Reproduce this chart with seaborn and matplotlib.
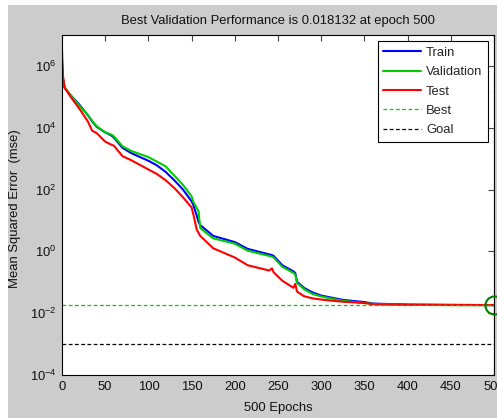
import numpy as np
import pandas as pd
import seaborn as sns
import matplotlib
matplotlib.use('Agg')
import matplotlib.pyplot as plt
from matplotlib.lines import Line2D
from matplotlib.patches import Rectangle
from matplotlib.ticker import LogLocator, NullLocator

# values (log10 of the mse)
epochs = [0, 1, 3, 10, 20, 30, 35, 40, 50, 57, 60, 70, 80, 100, 110, 120, 130, 140,
          150, 152, 156, 158, 160, 175, 200, 215, 240, 243, 245, 255, 268, 270, 272,
          280, 290, 300, 325, 350, 360, 400, 450, 500]

train_log = [6.15, 5.6, 5.29, 5.05, 4.75, 4.4, 4.2, 4.03, 3.85, 3.75, 3.68, 3.35, 3.18,
             2.93, 2.78, 2.57, 2.3, 2.0, 1.62, 1.5, 1.15, 0.95, 0.85, 0.5, 0.3, 0.08,
             -0.1, -0.12, -0.15, -0.45, -0.65, -0.7, -0.98, -1.18, -1.33, -1.43, -1.57,
             -1.64, -1.69, -1.72, -1.73, -1.74]

valid_log = [6.0, 5.6, 5.3, 5.05, 4.72, 4.4, 4.22, 4.05, 3.85, 3.78, 3.72, 3.4, 3.25,
             3.05, 2.9, 2.75, 2.45, 2.15, 1.78, 1.6, 1.4, 1.3, 0.75, 0.42, 0.25, 0.02,
             -0.15, -0.17, -0.2, -0.5, -0.7, -0.75, -1.02, -1.22, -1.38, -1.46, -1.6,
             -1.67, -1.7, -1.73, -1.74, -1.7416]

test_log = [6.5, 5.7, 5.3, 5.0, 4.62, 4.2, 3.9, 3.83, 3.55, 3.45, 3.42, 3.08, 2.95,
            2.65, 2.5, 2.3, 2.05, 1.75, 1.42, 1.2, 0.7, 0.6, 0.5, 0.1, -0.2, -0.45,
            -0.62, -0.55, -0.68, -0.95, -1.18, -1.05, -1.3, -1.45, -1.52, -1.56, -1.63,
            -1.67, -1.71, -1.73, -1.735, -1.735]

best_perf = 0.018132
best_epoch = 500
goal = 1e-3

series_names = ['Train', 'Validation', 'Test']
series_colors = ['#0000ff', '#00cc00', '#ff0000']

FS = 9.4


def build_df():
    frames = []
    for name, vals in zip(series_names, [train_log, valid_log, test_log]):
        frames.append(pd.DataFrame({'epoch': epochs,
                                    'mse': 10 ** np.array(vals),
                                    'set': name}))
    return pd.concat(frames, ignore_index=True)


def draw_perf_plot():
    df = build_df()

    sns.set_theme(style='white')
    plt.rcParams['font.family'] = ['Liberation Sans', 'DejaVu Sans']
    plt.rcParams['mathtext.fontset'] = 'custom'
    plt.rcParams['mathtext.rm'] = 'Liberation Sans'

    fig = plt.figure(figsize=(4.97, 4.18), dpi=100, facecolor='white')
    fig.add_artist(Rectangle((8 / 497, 0), 1, 1 - 5 / 418, transform=fig.transFigure,
                             facecolor='#cccccc', edgecolor='none', zorder=-10))
    ax = fig.add_axes([62 / 497, 43 / 418, 432 / 497, 340 / 418])
    ax.set_facecolor('white')

    sns.lineplot(data=df, x='epoch', y='mse', hue='set', palette=series_colors,
                 hue_order=series_names, estimator=None, sort=False, linewidth=1.5,
                 legend=False, ax=ax)

    ax.axhline(best_perf, color='#00cc00', ls=(0, (3, 2)), lw=0.9)
    ax.axvline(best_epoch, color='#00cc00', ls=(0, (3, 2)), lw=0.9)
    ax.axhline(goal, color='black', ls=(0, (3, 2)), lw=0.9)
    ax.plot([best_epoch], [best_perf], 'o', ms=13, mfc='none', mec='#008000', mew=1.5,
            clip_on=False, zorder=5)

    ax.set_yscale('log')
    ax.set_xlim(0, 500)
    ax.set_ylim(1e-4, 1e7)
    ax.set_xticks(range(0, 501, 50))
    ax.yaxis.set_major_locator(LogLocator(base=100))
    ax.yaxis.set_minor_locator(NullLocator())
    ax.tick_params(direction='in', length=4, width=0.8, color='#444444', top=True,
                   right=True, labelsize=FS, labelcolor='#111111', pad=4)
    for s in ax.spines.values():
        s.set_color('black')
        s.set_linewidth(0.8)

    ax.set_title('Best Validation Performance is 0.018132 at epoch 500', fontsize=FS,
                 pad=8, color='#111111')
    ax.set_xlabel('500 Epochs', fontsize=FS, color='#111111')
    ax.xaxis.set_label_coords(0.5, -0.078)
    ax.set_ylabel('Mean Squared Error  (mse)', fontsize=FS, color='#111111')
    ax.yaxis.set_label_coords(-0.095, 0.49)

    handles = [Line2D([], [], color=c, lw=1.5) for c in series_colors]
    handles.append(Line2D([], [], color='#00cc00', ls=(0, (3, 2)), lw=0.9))
    handles.append(Line2D([], [], color='black', ls=(0, (3, 2)), lw=0.9))
    leg = ax.legend(handles, series_names + ['Best', 'Goal'], loc='upper right',
                    fontsize=FS, frameon=True, fancybox=False, framealpha=1,
                    edgecolor='black', handlelength=2.9, borderaxespad=0.45,
                    labelspacing=0.55, borderpad=0.45, handletextpad=0.35)
    leg.get_frame().set_linewidth(0.8)

    fig.savefig('out.png', dpi=100)
    return fig


draw_perf_plot()
